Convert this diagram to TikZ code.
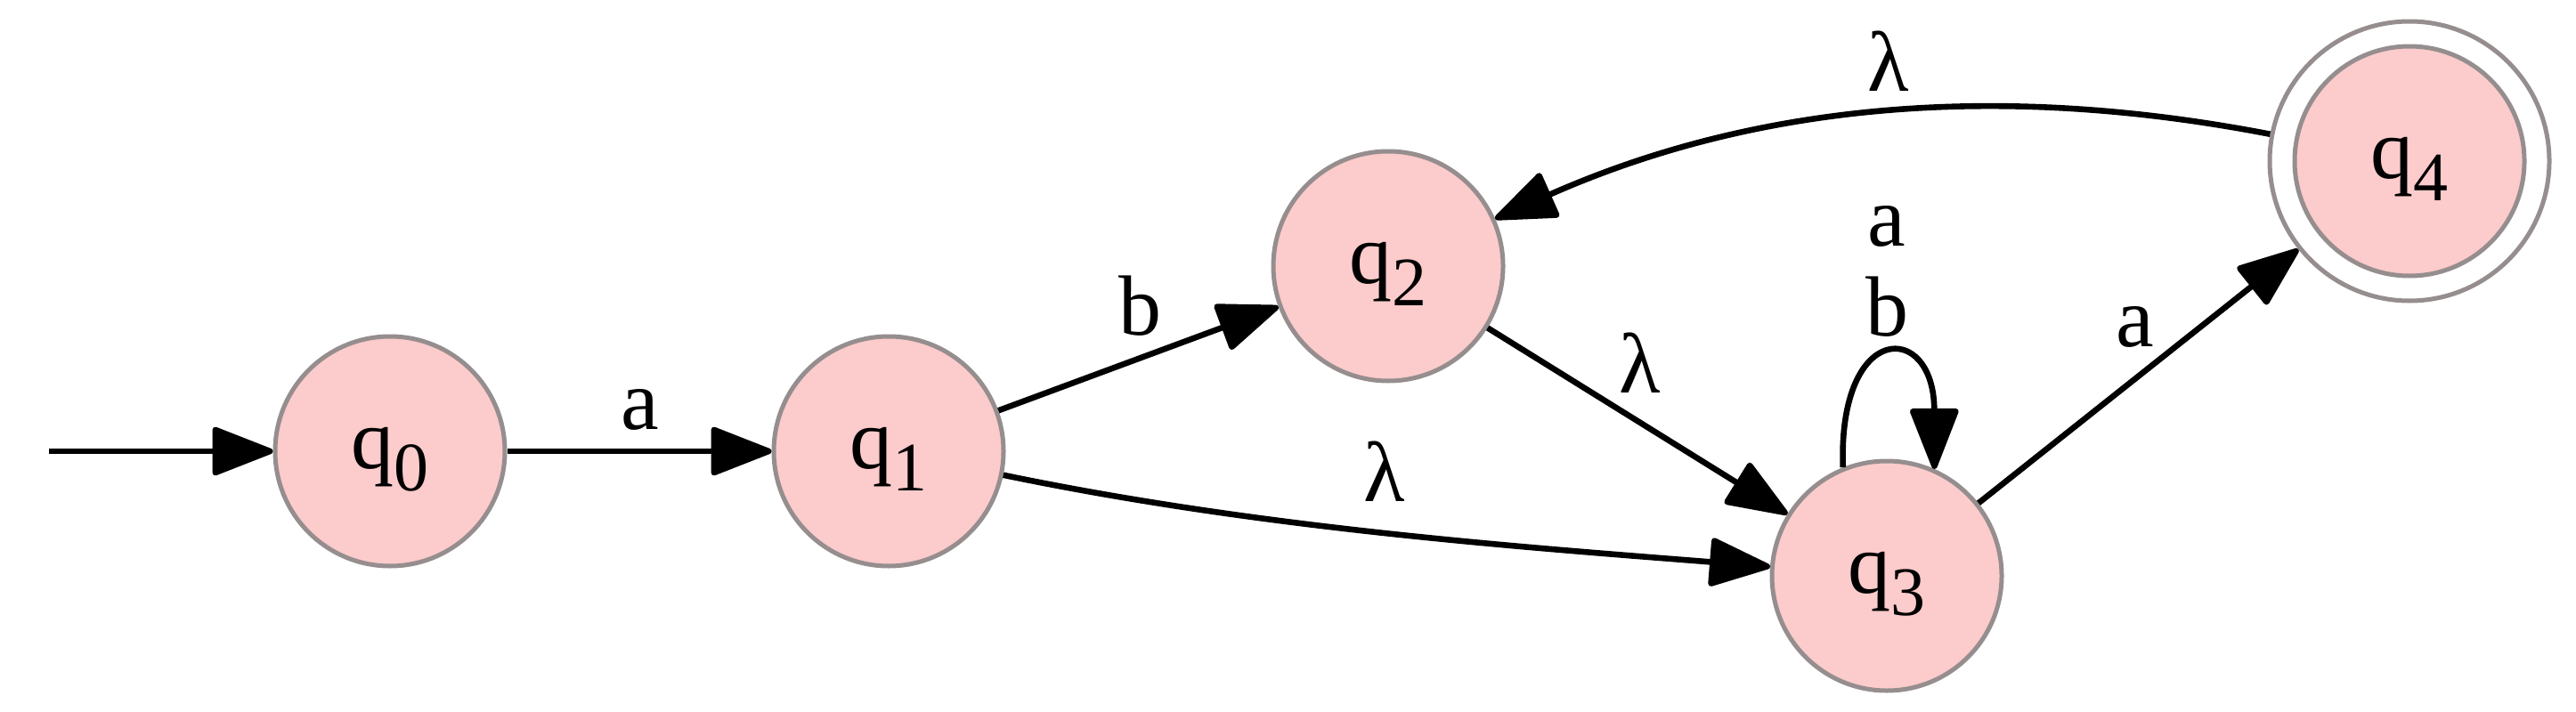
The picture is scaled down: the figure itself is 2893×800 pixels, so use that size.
\documentclass[tikz,border=0pt]{standalone}
\usepackage{fontspec}
\setmainfont{Liberation Serif}
\usetikzlibrary{arrows.meta}
\definecolor{statefill}{RGB}{252,203,203}
\definecolor{stateline}{RGB}{150,142,142}
\newcommand\qsub[1]{\raisebox{-25pt}{\fontsize{78}{78}\selectfont #1}}
\begin{document}
\begin{tikzpicture}[x=1pt,y=-1pt,
  state/.style={circle, draw=stateline, fill=statefill, line width=5pt,
    minimum size=258pt, inner sep=0pt, font=\fontsize{96}{96}\selectfont,
    text height=60pt, text depth=22pt},
  accouter/.style={circle, draw=stateline, fill=white, line width=5pt,
    minimum size=314pt, inner sep=0pt},
  trans/.style={line width=6.6pt, -{Triangle[length=74pt,width=56pt,round]}},
  lbl/.style={font=\fontsize{96}{96}\selectfont, inner sep=0pt}]
\useasboundingbox (0,0) rectangle (2893,800);
% states
\node[state] (q0) at (438,507) {q\qsub{0}};
\node[state] (q1) at (998,507) {q\qsub{1}};
\node[state] (q2) at (1559,299) {q\qsub{2}};
\node[state] (q3) at (2119,647) {q\qsub{3}};
\node[accouter] (q4) at (2706,181) {};
\node[state] (q4in) at (2706,181) {q\qsub{4}};
\coordinate (init) at (55,507);
% transitions
\draw[trans] (init) -- (q0);
\draw[trans] (q0) -- (q1);
\draw[trans] (q1) -- (q2);
\draw[trans] (q1) .. controls (1412,593) and (1700,614) .. (q3);
\draw[trans] (q2) -- (q3);
\draw[trans] (q3) -- (q4);
\draw[trans] (q4) .. controls (2256,94) and (1981,112) .. (q2);
\draw[trans] (q3.112) .. controls (2064,360) and (2172,360) .. (q3.66);
% labels
\node[lbl] (la01) at (719,460) {a};
\node[lbl] (lb12) at (1280,344) {b};
\node[lbl] (ll13) at (1555,530) {λ};
\node[lbl] (ll23) at (1842,408) {λ};
\node[lbl] (ll42) at (2121,69) {λ};
\node[lbl] (la33) at (2119,254) {a};
\node[lbl] (lb33) at (2119,345) {b};
\node[lbl] (la34) at (2398,367) {a};
\end{tikzpicture}
\end{document}
